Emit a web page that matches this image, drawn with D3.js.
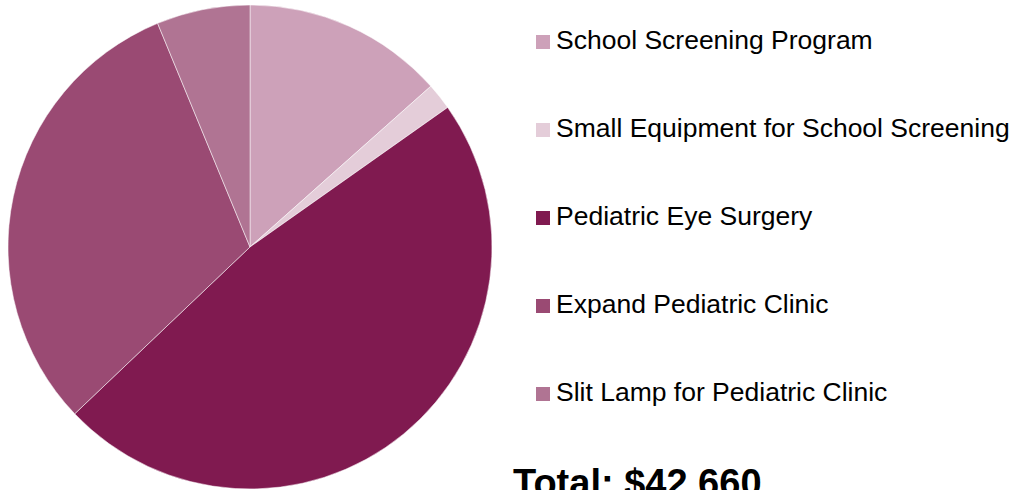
<!DOCTYPE html>
<html>
<head>
<meta charset="utf-8">
<script src="https://cdnjs.cloudflare.com/ajax/libs/d3/7.8.5/d3.min.js"></script>
<style>
	html, body { margin: 0; padding: 0; background: #fff; overflow: hidden; }
	#root { width: 1018px; height: 490px; }
	text { font-family: "Liberation Sans", Arial, sans-serif; fill: #000; }
</style>
</head>
<body>
<div id="root"></div>
<script>
const categories	= ['School Screening Program', 'Small Equipment for School Screening', 'Pediatric Eye Surgery', 'Expand Pediatric Clinic', 'Slit Lamp for Pediatric Clinic'];
const amounts		= [5730, 760, 20340, 13170, 2660];
const colors		= ['#cda1b9', '#e4cdd9', '#801a50', '#9a4a73', '#b07493'];
const total_label	= 'Total: $42,660';

const canvasWidth	= 1018;
const canvasHeight	= 490;
const radius		= 242;
const center		= { x: 250, y: 247 };

const box_size		= 14;
const lgnd_x		= 536;
const lgnd_top		= 35;
const lgnd_step		= 88;

const svg	= d3.select('#root').append('svg')
	.attr('width', canvasWidth)
	.attr('height', canvasHeight);

const data	= categories.map((c, i) => ({ name: c, value: amounts[i], color: colors[i] }));

const pie	= d3.pie().sort(null).value(d => d.value);
const arc	= d3.arc().innerRadius(0).outerRadius(radius);

svg.append('g')
	.attr('transform', 'translate(' + center.x + ',' + center.y + ')')
	.selectAll('path').data(pie(data)).enter().append('path')
	.attr('d', arc)
	.attr('fill', d => d.data.color)
	.attr('stroke', '#fff')
	.attr('stroke-width', 0.5);

let legends	= svg.append('g')
	.attr('transform', 'translate(' + lgnd_x + ',' + lgnd_top + ')')
	.selectAll('.legend').data(data).enter().append('g')
	.attr('class', 'legend')
	.attr('transform', (d, i) => 'translate(0,' + (i * lgnd_step) + ')');

legends.append('rect')
	.attr('width', box_size)
	.attr('height', box_size)
	.attr('fill', d => d.color);

legends.append('text')
	.attr('x', box_size + 6)
	.attr('y', box_size - 0.5)
	.style('font-size', '26.5px')
	.text(d => d.name);

// total sits partly below the bottom edge, as in the source
svg.append('text')
	.attr('x', 513)
	.attr('y', 496)
	.style('font-size', '38px')
	.style('font-weight', 'bold')
	.text(total_label);
</script>
</body>
</html>
